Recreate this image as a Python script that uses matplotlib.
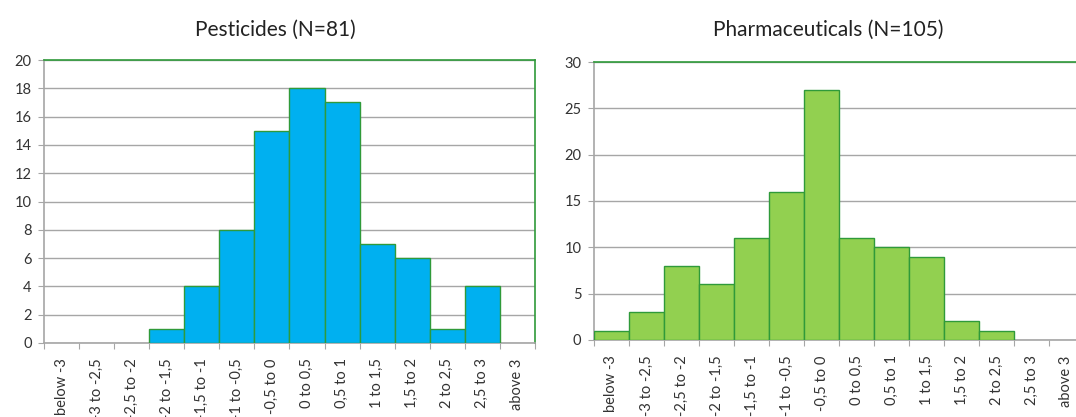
import matplotlib.pyplot as plt
import numpy as np

plt.rcParams['font.family'] = ['Lato', 'DejaVu Sans']

categories = ["below -3", "-3 to -2,5", "-2,5 to -2", "-2 to -1,5", "-1,5 to -1",
              "-1 to -0,5", "-0,5 to 0", "0 to 0,5", "0,5 to 1", "1 to 1,5",
              "1,5 to 2", "2 to 2,5", "2,5 to 3", "above 3"]
pesticides = [0, 0, 0, 1, 4, 8, 15, 18, 17, 7, 6, 1, 4, 0]
pharma = [1, 3, 8, 6, 11, 16, 27, 11, 10, 9, 2, 1, 0, 0]

EDGE = "#2f9a3a"
GRID = "#a6a6a6"
TXT = "#333333"


def draw(ax, values, color, ymax, ystep):
    x = np.arange(len(values))
    # empty bins get no outline (no green line over the axis)
    edges = [EDGE if v > 0 else "none" for v in values]
    ax.bar(x + 0.5, values, width=1.0, color=color, edgecolor=edges,
           linewidth=1.0, zorder=3)
    ax.set_xlim(0, len(values))
    ax.set_ylim(0, ymax)
    ax.set_yticks(np.arange(0, ymax + 1, ystep))
    ax.yaxis.grid(True, color=GRID, linewidth=1.0, zorder=0)
    # tick marks at the bin edges, labels at the centres
    ax.set_xticks(np.arange(len(values) + 1))
    ax.set_xticklabels([])
    ax.set_xticks(x + 0.5, minor=True)
    ax.set_xticklabels(categories, minor=True, rotation=90, fontsize=10.5,
                       color=TXT)
    ax.tick_params(axis="x", which="minor", length=0, pad=11)
    ax.tick_params(axis="x", which="major", length=4, color=GRID, direction="out")
    ax.tick_params(axis="y", length=4, color=GRID, labelsize=10.5,
                   labelcolor=TXT, pad=5)
    for s in ("left", "bottom"):
        ax.spines[s].set_color(GRID)
        ax.spines[s].set_linewidth(1.2)
    for s in ("top", "right"):
        ax.spines[s].set_color(EDGE)
        ax.spines[s].set_linewidth(1.2)


fig = plt.figure(figsize=(10.76, 4.17), dpi=100)
ax1 = fig.add_axes([0.0409, 0.1775, 0.4563, 0.6785])
ax2 = fig.add_axes([0.552, 0.1847, 0.4554, 0.6666])

draw(ax1, pesticides, "#00b0f0", 20, 2)
draw(ax2, pharma, "#92d050", 30, 5)

fig.text(0.2555, 0.928, "Pesticides (N=81)", ha="center", va="center",
         fontsize=15, color="#222222")
fig.text(0.7695, 0.928, "Pharmaceuticals (N=105)", ha="center", va="center",
         fontsize=15, color="#222222")

fig.savefig("out.png", dpi=100)
